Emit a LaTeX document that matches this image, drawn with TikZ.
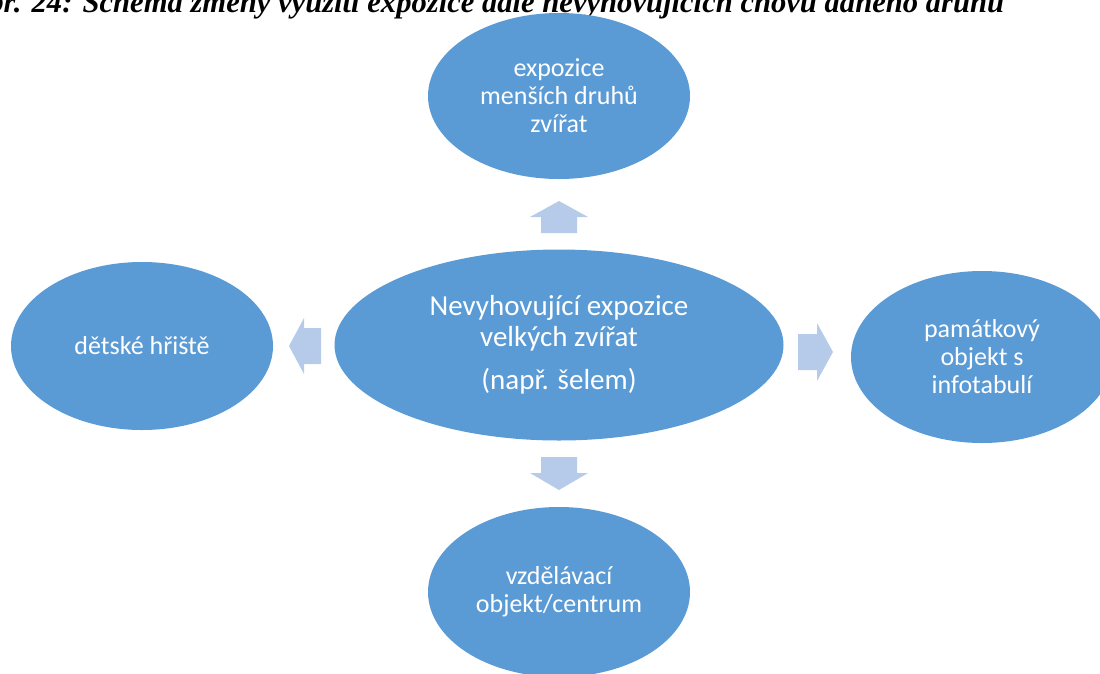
\documentclass[tikz,border=0pt]{standalone}
\usepackage{fontspec}
\setmainfont{Carlito}
\newfontfamily\titlefont{Liberation Serif}
\usetikzlibrary{shapes.geometric}
\definecolor{ellblue}{HTML}{5B9BD5}
\definecolor{arrblue}{HTML}{B6CBEA}
\tikzset{
  x=1pt,y=-1pt,
  bubble/.style={ellipse,fill=ellblue,draw=none,inner sep=0pt,text=white,align=center,
    font=\fontsize{26}{28}\selectfont,minimum width=262pt},
  bigbubble/.style={bubble,minimum width=449pt,minimum height=191pt,font=\fontsize{29}{31}\selectfont},
  blockarrow/.style={fill=arrblue,draw=none},
}
\begin{document}
\begin{tikzpicture}
\useasboundingbox (0,0) rectangle (1100,673);
\begin{scope}
\clip (0,0) rectangle (1100,673);
\node[anchor=base west,inner sep=0pt,font=\titlefont\bfseries\itshape\fontsize{30.6}{33}\selectfont] (title) at (-34,12) {Obr. 24: Schéma změny využití expozice dále nevyhovujících chovů daného druhu};
\node[bubble,minimum height=166pt] (top) at (559,96) {expozice\\menších druhů\\zvířat};
\node[bubble,minimum height=168pt] (left) at (142,346) {dětské hřiště};
\node[bubble,minimum height=172pt] (right) at (982,357) {památkový\\objekt s\\infotabulí};
\node[bubble,minimum height=170pt] (bottom) at (559,592) {vzdělávací\\objekt/centrum};
\node[bigbubble] (center) at (559,345) {Nevyhovující expozice\\velkých zvířat\\[12pt](např. šelem)};
% block arrows
\fill[blockarrow] (559,201) -- (588,217) -- (577,217) -- (577,233) -- (541,233) -- (541,217) -- (530,217) -- cycle;
\fill[blockarrow] (289,346) -- (304,318) -- (304,328) -- (321,328) -- (321,364) -- (304,364) -- (304,374) -- cycle;
\fill[blockarrow] (833,352) -- (817,323) -- (817,334) -- (798,334) -- (798,370) -- (817,370) -- (817,381) -- cycle;
\fill[blockarrow] (559,490) -- (588,473) -- (577,473) -- (577,457) -- (541,457) -- (541,473) -- (530,473) -- cycle;
\end{scope}
\end{tikzpicture}
\end{document}
